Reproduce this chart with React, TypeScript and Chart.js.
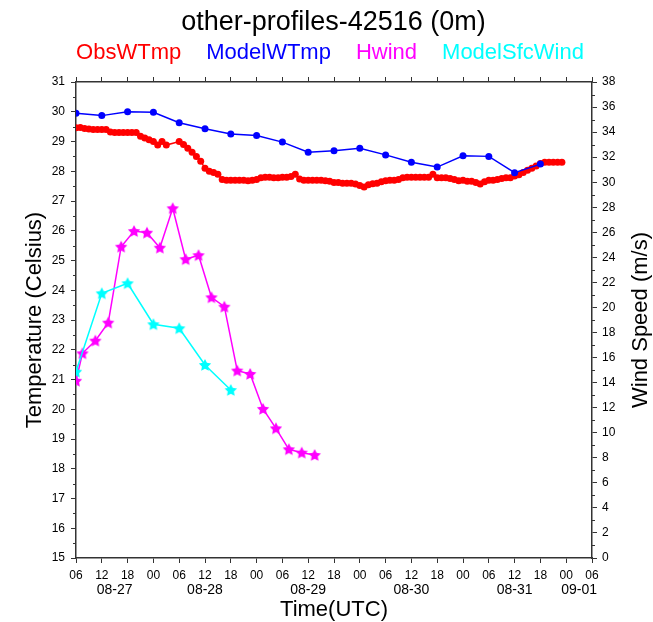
import React, { useEffect, useRef } from 'react';
import { Chart, registerables } from 'chart.js';

Chart.register(...registerables);

const FONT = '"Liberation Sans", Arial, Helvetica, sans-serif';
const AXIS = '#333333';

const TITLE = 'other-profiles-42516 (0m)';
const SERIES_NAMES = ['ObsWTmp', 'ModelWTmp', 'Hwind', 'ModelSfcWind'];
const SERIES_COLORS = ['#ff0000', '#0000ff', '#ff00ff', '#00ffff'];

// hours since 08-27 06 UTC
const START_HOUR = 6;
const X_MIN = 0;
const X_MAX = 120;
const X_STEP = 6;

const obsHours = [
  0, 1, 2, 3, 4, 5, 6, 7, 8, 9, 10, 11, 12, 13, 14, 15, 16, 17, 18, 19, 20, 21,
  24, 25, 26, 27, 28, 29, 30, 31, 32, 33, 34, 35, 36, 37, 38, 39, 40, 41, 42, 43,
  44, 45, 46, 47, 48, 49, 50, 51, 52, 53, 54, 55, 56, 57, 58, 59, 60, 61, 62, 63,
  64, 65, 66, 67, 68, 69, 70, 71, 72, 73, 74, 75, 76, 77, 78, 79, 80, 81, 82, 83,
  84, 85, 86, 87, 88, 89, 90, 91, 92, 93, 94, 95, 96, 97, 98, 99, 100, 101, 102,
  103, 104, 105, 106, 107, 108, 109, 110, 111, 112, 113,
];
const obsTemp = [
  29.46, 29.47, 29.44, 29.42, 29.4, 29.4, 29.4, 29.4, 29.32, 29.3, 29.3, 29.3, 29.3, 29.3, 29.3, 29.18, 29.12, 29.06, 29.0, 28.88, 29.0, 28.88,
  29.0, 28.9, 28.77, 28.64, 28.5, 28.34, 28.1, 28.0, 27.96, 27.9, 27.72, 27.7, 27.7, 27.7, 27.7, 27.7, 27.68, 27.7, 27.72, 27.78,
  27.8, 27.8, 27.78, 27.78, 27.8, 27.8, 27.82, 27.9, 27.74, 27.7, 27.7, 27.7, 27.7, 27.7, 27.68, 27.66, 27.62, 27.62, 27.6, 27.6,
  27.6, 27.57, 27.52, 27.47, 27.55, 27.58, 27.6, 27.65, 27.68, 27.7, 27.7, 27.72, 27.78, 27.8, 27.8, 27.8, 27.8, 27.8, 27.8, 27.9,
  27.78, 27.78, 27.78, 27.76, 27.72, 27.68, 27.7, 27.66, 27.66, 27.62, 27.57, 27.65, 27.7, 27.7, 27.72, 27.76, 27.78, 27.78, 27.84,
  27.88, 27.96, 28.03, 28.1, 28.18, 28.26, 28.3, 28.3, 28.3, 28.3, 28.3,
];

const modelHours = [0, 6, 12, 18, 24, 30, 36, 42, 48, 54, 60, 66, 72, 78, 84, 90, 96, 102, 108];
const modelTemp = [29.95, 29.87, 30.0, 29.98, 29.63, 29.43, 29.25, 29.2, 28.98, 28.64, 28.69, 28.77, 28.55, 28.3, 28.14, 28.52, 28.5, 27.95, 28.24];

const hwindHours = [0, 1.5, 4.5, 7.5, 10.5, 13.5, 16.5, 19.5, 22.5, 25.5, 28.5, 31.5, 34.5, 37.5, 40.5, 43.5, 46.5, 49.5, 52.5, 55.5];
const hwindSpeed = [14.15, 16.34, 17.35, 18.79, 24.85, 26.1, 25.97, 24.77, 27.92, 23.85, 24.17, 20.81, 20.06, 14.96, 14.69, 11.9, 10.35, 8.68, 8.41, 8.22];

const sfcWindHours = [0, 6, 12, 18, 24, 30, 36];
const sfcWindSpeed = [14.87, 21.13, 21.93, 18.66, 18.34, 15.41, 13.41];

const dateTickHours = [9, 30, 54, 78, 102, 117];
const dateTickLabels = ['08-27', '08-28', '08-29', '08-30', '08-31', '09-01'];

const TEMP_MIN = 15;
const TEMP_MAX = 31;
const WIND_MIN = 0;
const WIND_MAX = 38;

function makeStar(color: string, size: number): HTMLCanvasElement {
  const c = document.createElement('canvas');
  c.width = size;
  c.height = size;
  const g = c.getContext('2d')!;
  const cx = size / 2;
  const cy = size / 2 + 0.5;
  const R = size / 2 - 0.5;
  const r = R * 0.5;
  g.beginPath();
  for (let i = 0; i < 10; i++) {
    const ang = -Math.PI / 2 + (i * Math.PI) / 5;
    const rad = i % 2 === 0 ? R : r;
    const px = cx + rad * Math.cos(ang);
    const py = cy + rad * Math.sin(ang);
    if (i === 0) g.moveTo(px, py);
    else g.lineTo(px, py);
  }
  g.closePath();
  g.fillStyle = color;
  g.fill();
  return c;
}

function pts(xs: number[], ys: number[]) {
  return xs.map((x, i) => ({ x, y: ys[i] }));
}

const minorTicksPlugin = {
  id: 'minorTicks',
  afterDraw(chart: any) {
    const { ctx, chartArea, scales } = chart;
    ctx.save();
    ctx.strokeStyle = AXIS;
    ctx.lineWidth = 1;
    const y = scales.y;
    for (let v = TEMP_MIN + 0.5; v < TEMP_MAX; v += 1) {
      const p = Math.round(y.getPixelForValue(v)) + 0.5;
      ctx.beginPath();
      ctx.moveTo(chartArea.left, p);
      ctx.lineTo(chartArea.left - 3, p);
      ctx.stroke();
    }
    const y2 = scales.y2;
    for (let v = WIND_MIN + 1; v < WIND_MAX; v += 2) {
      const p = Math.round(y2.getPixelForValue(v)) + 0.5;
      ctx.beginPath();
      ctx.moveTo(chartArea.right, p);
      ctx.lineTo(chartArea.right + 3, p);
      ctx.stroke();
    }
    ctx.restore();
  },
};

const textLegendPlugin = {
  id: 'textLegend',
  afterDraw(chart: any) {
    const { ctx, chartArea } = chart;
    ctx.save();
    ctx.font = `22px ${FONT}`;
    ctx.textBaseline = 'middle';
    ctx.textAlign = 'left';
    const items = chart.data.datasets.map((d: any) => ({ text: d.label as string, color: d.borderColor as string }));
    const gap = 25;
    const widths = items.map((it: any) => ctx.measureText(it.text).width);
    const total = widths.reduce((a: number, b: number) => a + b, 0) + gap * (items.length - 1);
    let x = (chartArea.left + chartArea.right) / 2 - 4 - total / 2;
    const yPos = chartArea.top - 29;
    items.forEach((it: any, i: number) => {
      ctx.fillStyle = it.color;
      ctx.fillText(it.text, x, yPos);
      x += widths[i] + gap;
    });
    ctx.restore();
  },
};

const rightTitlePlugin = {
  id: 'rightTitle',
  afterDraw(chart: any) {
    const { ctx, chartArea } = chart;
    ctx.save();
    ctx.font = `22px ${FONT}`;
    ctx.fillStyle = '#000';
    ctx.textAlign = 'center';
    ctx.textBaseline = 'middle';
    ctx.translate(641, (chartArea.top + chartArea.bottom) / 2);
    ctx.rotate(-Math.PI / 2);
    ctx.fillText('Wind Speed (m/s)', 0, 0);
    ctx.restore();
  },
};

export default function App() {
  const ref = useRef<HTMLCanvasElement>(null);

  useEffect(() => {
    if (!ref.current) return;
    Chart.defaults.font.family = FONT;
    const magentaStar = makeStar(SERIES_COLORS[2], 14);
    const cyanStar = makeStar(SERIES_COLORS[3], 14);

    const tickFont = { family: FONT, size: 12 };
    const grid = {
      drawOnChartArea: false,
      drawTicks: true,
      tickLength: 5,
      color: AXIS,
      tickColor: AXIS,
      lineWidth: 1,
    };
    const border = { display: true, color: AXIS, width: 1.5 };

    const chart = new Chart(ref.current, {
      type: 'line',
      data: {
        datasets: [
          {
            label: SERIES_NAMES[0],
            data: pts(obsHours, obsTemp),
            xAxisID: 'x',
            yAxisID: 'y',
            borderColor: SERIES_COLORS[0],
            backgroundColor: SERIES_COLORS[0],
            pointBackgroundColor: SERIES_COLORS[0],
            pointBorderColor: SERIES_COLORS[0],
            pointBorderWidth: 0,
            pointRadius: 3.5,
            borderWidth: 1.5,
            tension: 0,
            order: 4,
          },
          {
            label: SERIES_NAMES[1],
            data: pts(modelHours, modelTemp),
            xAxisID: 'x',
            yAxisID: 'y',
            borderColor: SERIES_COLORS[1],
            backgroundColor: SERIES_COLORS[1],
            pointBackgroundColor: SERIES_COLORS[1],
            pointBorderColor: SERIES_COLORS[1],
            pointBorderWidth: 0,
            pointRadius: 3.5,
            borderWidth: 1.5,
            tension: 0,
            order: 3,
          },
          {
            label: SERIES_NAMES[2],
            data: pts(hwindHours, hwindSpeed),
            xAxisID: 'x',
            yAxisID: 'y2',
            borderColor: SERIES_COLORS[2],
            backgroundColor: SERIES_COLORS[2],
            pointStyle: magentaStar as any,
            pointRadius: 6,
            borderWidth: 1.5,
            tension: 0,
            order: 2,
          },
          {
            label: SERIES_NAMES[3],
            data: pts(sfcWindHours, sfcWindSpeed),
            xAxisID: 'x',
            yAxisID: 'y2',
            borderColor: SERIES_COLORS[3],
            backgroundColor: SERIES_COLORS[3],
            pointStyle: cyanStar as any,
            pointRadius: 6,
            borderWidth: 1.5,
            tension: 0,
            order: 1,
          },
        ],
      },
      options: {
        animation: false,
        responsive: false,
        layout: { padding: { left: 14, right: 0, top: 0, bottom: 0 } },
        plugins: {
          legend: { display: false },
          tooltip: { enabled: false },
          title: {
            display: true,
            text: TITLE,
            color: '#000',
            font: { family: FONT, size: 27, weight: 'normal', lineHeight: 1.2 },
            padding: { top: 6, bottom: 0 },
          },
        },
        scales: {
          x: {
            type: 'linear',
            position: 'bottom',
            weight: 0,
            min: X_MIN,
            max: X_MAX,
            ticks: {
              stepSize: X_STEP,
              autoSkip: false,
              maxRotation: 0,
              padding: 5,
              color: '#000',
              font: tickFont,
              callback: (v: any) => String((Number(v) + START_HOUR) % 24).padStart(2, '0'),
            },
            grid,
            border,
            afterFit: (s: any) => {
              s.height = 24;
            },
          },
          xDate: {
            type: 'linear',
            position: 'bottom',
            weight: 1,
            min: X_MIN,
            max: X_MAX,
            afterBuildTicks: (s: any) => {
              s.ticks = dateTickHours.map((v) => ({ value: v }));
            },
            ticks: {
              autoSkip: false,
              maxRotation: 0,
              padding: 0,
              color: '#000',
              font: { family: FONT, size: 14 },
              callback: (v: any) => dateTickLabels[dateTickHours.indexOf(Number(v))] ?? '',
            },
            grid: { display: false, drawTicks: false },
            border: { display: false },
            title: {
              display: true,
              text: 'Time(UTC)',
              color: '#000',
              font: { family: FONT, size: 22, lineHeight: 1 },
              padding: { top: 0, bottom: 1 },
            },
            afterFit: (s: any) => {
              s.height = 40;
            },
          },
          xTop: {
            type: 'linear',
            position: 'top',
            min: X_MIN,
            max: X_MAX,
            ticks: { stepSize: X_STEP, display: false, autoSkip: false },
            grid,
            border,
            afterFit: (s: any) => {
              s.height = 43.6;
            },
          },
          y: {
            type: 'linear',
            position: 'left',
            min: TEMP_MIN,
            max: TEMP_MAX,
            ticks: { stepSize: 1, padding: 6, color: '#000', font: tickFont, autoSkip: false },
            grid,
            border,
            title: {
              display: true,
              text: 'Temperature (Celsius)',
              color: '#000',
              font: { family: FONT, size: 22, lineHeight: 1 },
              padding: { top: 10, bottom: 0 },
            },
            afterFit: (s: any) => {
              s.width = 62;
            },
          },
          y2: {
            type: 'linear',
            position: 'right',
            min: WIND_MIN,
            max: WIND_MAX,
            ticks: { stepSize: 2, padding: 5, color: '#000', font: tickFont, autoSkip: false },
            grid,
            border,
            afterFit: (s: any) => {
              s.width = 61;
            },
          },
        },
      } as any,
      plugins: [minorTicksPlugin, textLegendPlugin, rightTitlePlugin],
    });
    return () => chart.destroy();
  }, []);

  return (
    <div style={{ position: 'fixed', left: 0, top: 0, width: 653, height: 622, background: '#fff' }}>
      <canvas ref={ref} width={653} height={622} style={{ display: 'block', width: 653, height: 622 }} />
    </div>
  );
}
